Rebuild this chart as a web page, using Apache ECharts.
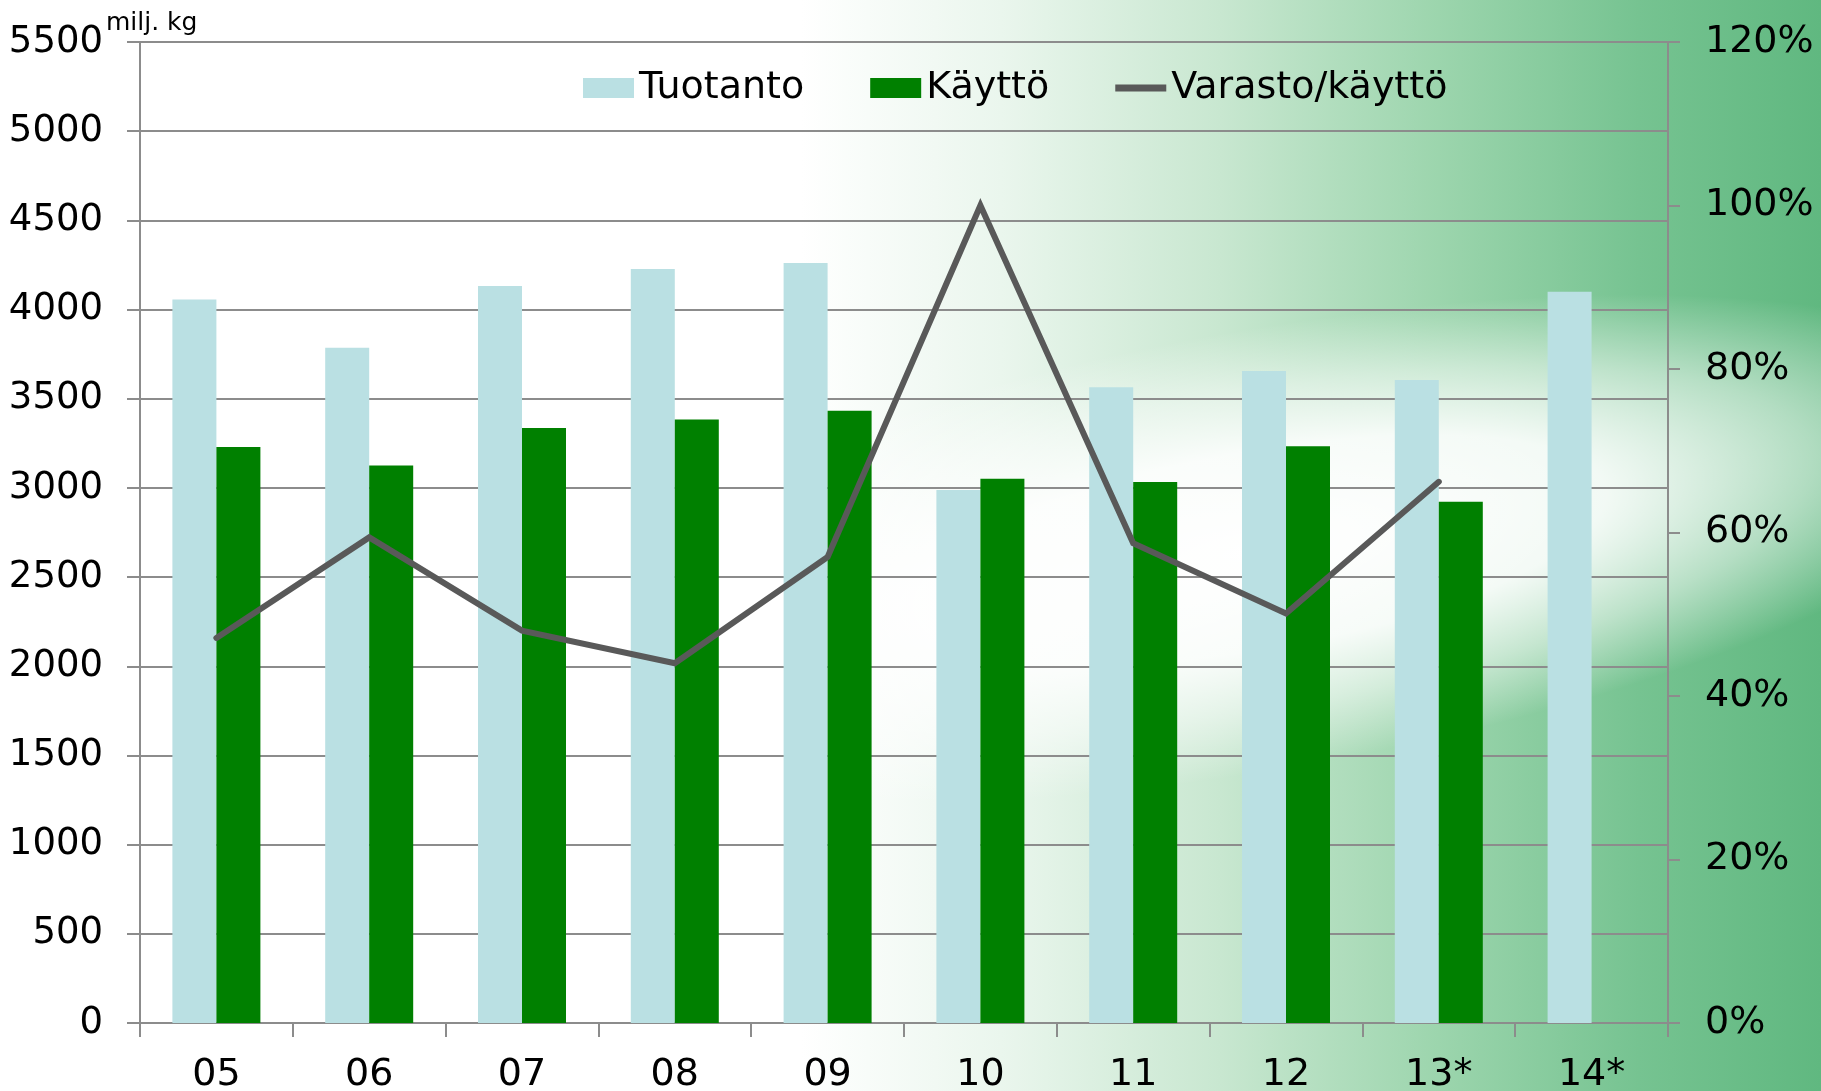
<!DOCTYPE html>
<html>
<head>
<meta charset="utf-8">
<script src="https://cdn.jsdelivr.net/npm/echarts@6/dist/echarts.min.js"></script>
<style>
html, body { margin: 0; padding: 0; width: 1821px; height: 1091px; overflow: hidden; position: relative; }
#bg {
  position: absolute; left: 0; top: 0; width: 1821px; height: 1091px;
  background: linear-gradient(90deg, #ffffff 0%, #ffffff 44%, #eaf6ed 55%, #c8e7d0 67%, #9cd5ad 79%, #76c391 90%, #60b880 100%);
}
#glow {
  position: absolute; left: 480px; top: 330px; width: 1560px; height: 440px;
  transform: rotate(-10deg);
  background: radial-gradient(ellipse 50% 50% at 50% 50%, rgba(255,255,255,1) 0%, rgba(255,255,255,0.9) 45%, rgba(255,255,255,0.5) 72%, rgba(255,255,255,0) 100%);
}
#chart { position: absolute; left: 0; top: 0; width: 1821px; height: 1091px; }
</style>
</head>
<body>
<div id="bg"></div>
<div id="glow"></div>
<div id="chart"></div>
<script>
// ---- data ----
const categories = ['05', '06', '07', '08', '09', '10', '11', '12', '13*', '14*'];
const tuotanto = [4057, 3786, 4132, 4227, 4261, 2988, 3564, 3656, 3605, 4100];
const kaytto = [3229, 3125, 3336, 3383, 3433, 3052, 3033, 3233, 2923, null];
const varastoKaytto = [47.1, 59.4, 48.0, 44.0, 57.0, 100.0, 58.7, 50.1, 66.2, null];
const seriesNames = ['Tuotanto', 'Käyttö', 'Varasto/käyttö'];
const unitLabel = 'milj. kg';
const leftMin = 0, leftMax = 5500, leftInterval = 500;
const rightMin = 0, rightMax = 120, rightInterval = 20;

// ---- styles ----
const FONT = 'DejaVu Sans';
const GRID_COLOR = '#8c8c8c';
const LIGHT = '#bae0e3';
const GREEN = '#008000';
const LINE = '#595959';

const chart = echarts.init(document.getElementById('chart'), null, { renderer: 'canvas' });

chart.setOption({
  backgroundColor: 'transparent',
  animation: false,
  grid: { left: 140, right: 153, top: 42, bottom: 68, containLabel: false, outerBoundsMode: 'none' },
  legend: {
    top: 64,
    left: 578,
    itemWidth: 51,
    itemHeight: 20,
    itemGap: 66,
    textStyle: { fontFamily: FONT, fontSize: 38, color: '#000' },
    data: [
      { name: seriesNames[0], icon: 'rect' },
      { name: seriesNames[1], icon: 'rect' },
      { name: seriesNames[2], icon: 'path://M0,0M0,6.5L51,6.5L51,13.5L0,13.5ZM51,20', itemStyle: { borderWidth: 0 } }
    ]
  },
  graphic: [
    {
      type: 'text',
      left: 106,
      top: 11,
      style: { text: unitLabel, font: '25px "DejaVu Sans"', fill: '#000' }
    }
  ],
  xAxis: {
    type: 'category',
    data: categories,
    boundaryGap: true,
    axisLine: { show: true, lineStyle: { color: GRID_COLOR, width: 2 } },
    axisTick: { show: true, length: 14, lineStyle: { color: GRID_COLOR, width: 2 } },
    axisLabel: { fontFamily: FONT, fontSize: 38, color: '#000', margin: 33, interval: 0 }
  },
  yAxis: [
    {
      type: 'value',
      min: leftMin, max: leftMax, interval: leftInterval,
      position: 'left',
      axisLine: { show: true, lineStyle: { color: GRID_COLOR, width: 2 } },
      axisTick: { show: true, length: 13, lineStyle: { color: GRID_COLOR, width: 2 } },
      axisLabel: { fontFamily: FONT, fontSize: 37, color: '#000', margin: 37, formatter: function (v) { return String(v); } },
      splitLine: { show: true, lineStyle: { color: GRID_COLOR, width: 2 } }
    },
    {
      type: 'value',
      min: rightMin, max: rightMax, interval: rightInterval,
      position: 'right',
      axisLine: { show: true, lineStyle: { color: GRID_COLOR, width: 2 } },
      axisTick: { show: true, length: 12, lineStyle: { color: GRID_COLOR, width: 2 } },
      axisLabel: { fontFamily: FONT, fontSize: 38, color: '#000', margin: 37, formatter: '{value}%' },
      splitLine: { show: false }
    }
  ],
  series: [
    {
      name: seriesNames[0],
      type: 'bar',
      data: tuotanto,
      barWidth: 44,
      barGap: '0%',
      itemStyle: { color: LIGHT }
    },
    {
      name: seriesNames[1],
      type: 'bar',
      data: kaytto,
      barWidth: 44,
      barGap: '0%',
      itemStyle: { color: GREEN }
    },
    {
      name: seriesNames[2],
      type: 'line',
      yAxisIndex: 1,
      data: varastoKaytto,
      showSymbol: false,
      symbol: 'none',
      itemStyle: { color: LINE },
      lineStyle: { color: LINE, width: 6, cap: 'round', join: 'miter' },
      z: 5
    }
  ]
});
</script>
</body>
</html>
